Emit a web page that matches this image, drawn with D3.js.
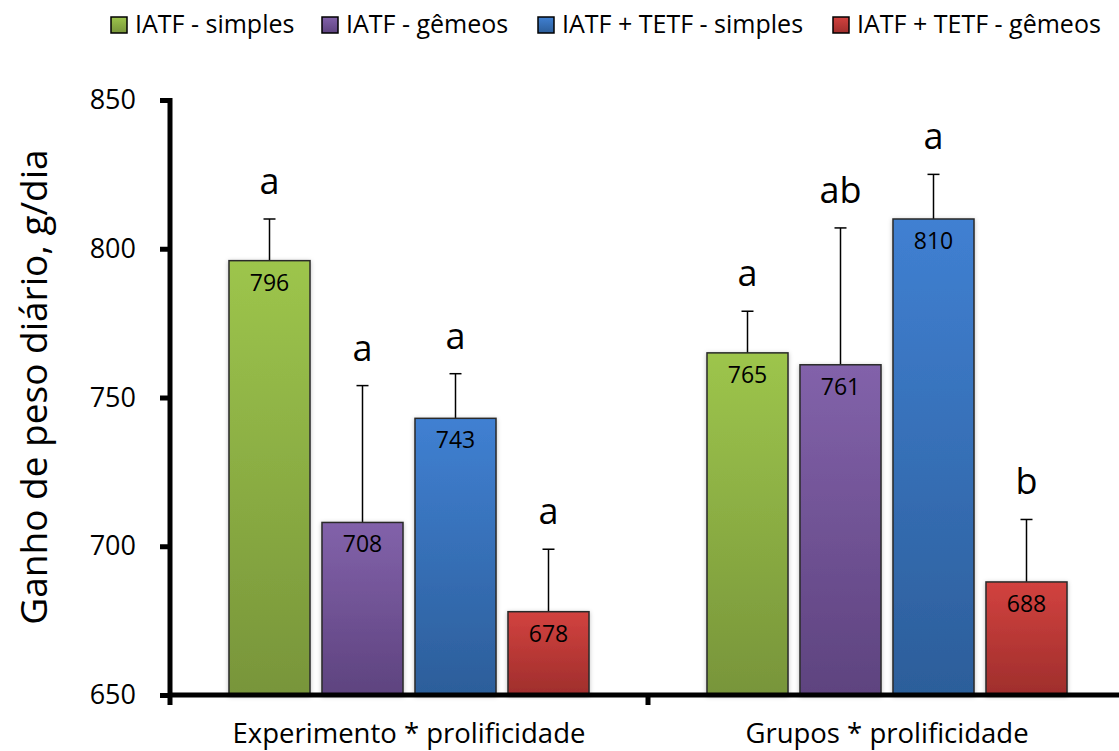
<!DOCTYPE html>
<html>
<head>
<meta charset="utf-8">
<script src="https://cdn.jsdelivr.net/npm/d3@7/dist/d3.min.js"></script>
<style>
  html, body { margin: 0; padding: 0; background: #fff; }
  svg { display: block; font-family: "Open Sans", "Noto Sans", sans-serif; }
</style>
</head>
<body>
<svg id="chart" width="1119" height="751"></svg>
<script>
// Daily weight gain (g/day) by protocol and prolificacy
const groups = ["Experimento * prolificidade", "Grupos * prolificidade"];
const seriesNames = ["IATF - simples", "IATF - gêmeos", "IATF + TETF - simples", "IATF + TETF - gêmeos"];
const means = [
  [796, 708, 743, 678],
  [765, 761, 810, 688]
];
const errors = [
  [14, 46, 15, 21],
  [14, 46, 15, 21]
];
const letters = [
  ["a", "a", "a", "a"],
  ["a", "ab", "a", "b"]
];
const yTicks = [650, 700, 750, 800, 850];
const seriesTop = ["#9dc54c", "#8262aa", "#4080d2", "#d2423f"];
const seriesBottom = ["#78953a", "#5e437f", "#2c5e9a", "#9f2e2c"];

const FONT = "'Open Sans', 'Noto Sans', sans-serif";
const svg = d3.select("#chart");
const plotLeft = 170, plotRight = 1126, plotTop = 100, plotBottom = 695;
const clusterWidth = 360;

const y = d3.scaleLinear().domain([650, 850]).range([plotBottom, plotTop]);
const x0 = d3.scaleBand().domain(groups).range([plotLeft, plotRight]);
const x1 = d3.scaleBand().domain(seriesNames).range([0, clusterWidth]).paddingInner(0.129);

const defs = svg.append("defs");
seriesNames.forEach((s, i) => {
  const g = defs.append("linearGradient").attr("id", "grad" + i)
    .attr("x1", 0).attr("y1", 0).attr("x2", 0).attr("y2", 1);
  g.append("stop").attr("offset", "0%").attr("stop-color", seriesTop[i]);
  g.append("stop").attr("offset", "100%").attr("stop-color", seriesBottom[i]);
});
const shadow = defs.append("filter").attr("id", "shadow")
  .attr("x", "-20%").attr("y", "-5%").attr("width", "140%").attr("height", "110%");
shadow.append("feDropShadow").attr("dx", 0).attr("dy", 1).attr("stdDeviation", 2)
  .attr("flood-color", "#000").attr("flood-opacity", 0.25);

// Bars, error bars and labels
groups.forEach((grp, gi) => {
  const gx = x0(grp) + (x0.bandwidth() - clusterWidth) / 2;
  const g = svg.append("g").attr("transform", `translate(${gx},0)`);
  seriesNames.forEach((s, si) => {
    const v = means[gi][si];
    const bx = x1(s), bw = x1.bandwidth();
    const cx = bx + bw / 2;
    const errTop = y(v + errors[gi][si]);
    g.append("line")
      .attr("x1", cx).attr("x2", cx).attr("y1", y(v)).attr("y2", errTop)
      .attr("stroke", "#000").attr("stroke-width", 1.5);
    g.append("line")
      .attr("x1", cx - 6).attr("x2", cx + 6).attr("y1", errTop).attr("y2", errTop)
      .attr("stroke", "#000").attr("stroke-width", 1.5);
    g.append("rect")
      .attr("x", bx).attr("y", y(v)).attr("width", bw).attr("height", y(650) - y(v))
      .attr("fill", `url(#grad${si})`).attr("stroke", "#2a2a2a").attr("stroke-width", 1.5)
      .attr("filter", "url(#shadow)");
    g.append("text")
      .attr("x", cx).attr("y", y(v) + 30)
      .attr("text-anchor", "middle").attr("font-size", 23).attr("fill", "#000")
      .text(v);
    g.append("text")
      .attr("x", cx).attr("y", errTop - 25)
      .attr("text-anchor", "middle").attr("font-size", 36).attr("fill", "#000")
      .text(letters[gi][si]);
  });
});

// Y axis
const yAxis = svg.append("g").attr("transform", `translate(${plotLeft},0)`)
  .call(d3.axisLeft(y).tickValues(yTicks).tickSize(10).tickPadding(24));
yAxis.select(".domain").attr("stroke", "#000").attr("stroke-width", 5)
  .attr("d", `M0,${plotTop - 2}V${plotBottom + 2}`);
yAxis.selectAll(".tick line").attr("stroke", "#000").attr("stroke-width", 5);
yAxis.selectAll(".tick text").attr("font-size", 27).attr("fill", "#000")
  .attr("font-family", FONT);

// X axis
const xAxis = svg.append("g").attr("transform", `translate(0,${plotBottom})`)
  .call(d3.axisBottom(x0).tickSize(0).tickPadding(28));
xAxis.select(".domain").attr("stroke", "#000").attr("stroke-width", 5)
  .attr("d", `M${plotLeft - 2},0H1119`);
xAxis.selectAll(".tick text").attr("font-size", 27.5).attr("fill", "#000")
  .attr("font-family", FONT);
// category separators on the x axis
svg.append("g").selectAll("line").data([plotLeft, x0(groups[1])]).join("line")
  .attr("x1", d => d).attr("x2", d => d).attr("y1", plotBottom).attr("y2", plotBottom + 10)
  .attr("stroke", "#000").attr("stroke-width", 5);

// Y axis title
svg.append("text")
  .attr("transform", `translate(47,387) rotate(-90)`)
  .attr("text-anchor", "middle").attr("font-size", 37).attr("fill", "#000")
  .text("Ganho de peso diário, g/dia");

// Legend
const legendX = [111, 322, 538, 833];
const legend = svg.append("g");
seriesNames.forEach((s, i) => {
  const lg = legend.append("g").attr("transform", `translate(${legendX[i]},0)`);
  lg.append("rect").attr("x", 0).attr("y", 17).attr("width", 16).attr("height", 16)
    .attr("fill", `url(#grad${i})`).attr("stroke", "#000").attr("stroke-width", 1.5);
  lg.append("text").attr("x", 24).attr("y", 33).attr("font-size", 25).attr("fill", "#000")
    .text(s);
});
</script>
</body>
</html>
